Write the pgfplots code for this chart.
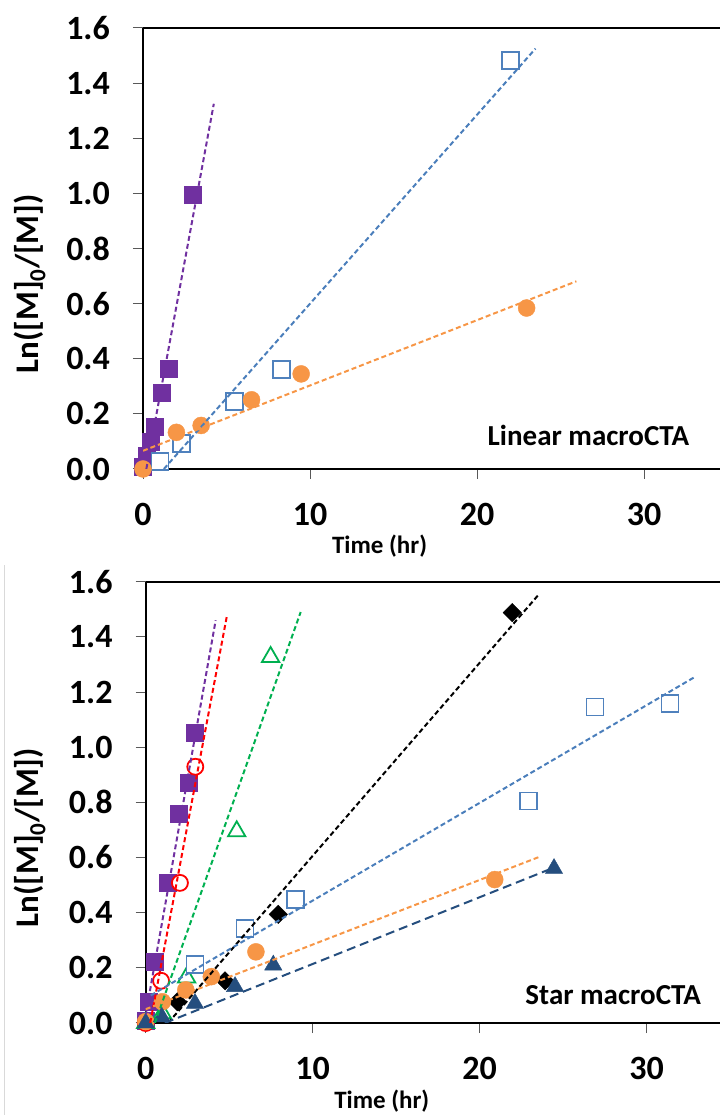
\documentclass[border=0pt]{standalone}
\usepackage{fontspec}
\setmainfont{Carlito}
\usepackage{pgfplots}
\pgfplotsset{compat=1.18}
\definecolor{cpurple}{HTML}{7030A0}
\definecolor{cblue}{HTML}{4F81BD}
\definecolor{cblueline}{HTML}{4A7EBB}
\definecolor{corange}{HTML}{F79646}
\definecolor{cred}{HTML}{FF0000}
\definecolor{cgreen}{HTML}{00B050}
\definecolor{cnavy}{HTML}{254E7E}
\definecolor{ctick}{HTML}{595959}
\pgfplotsset{
  kin/.style={
    scale only axis,
    xmin=0, ymin=0, ymax=1.6,
    axis y line*=left,
    xtick={0,10,20,30},
    ytick={0,0.2,0.4,0.6,0.8,1.0,1.2,1.4,1.6},
    xtick pos=bottom, ytick pos=left,
    tick align=outside,
    major tick length=10pt,
    major tick style={line width=1pt, ctick},
    axis line style={line width=2pt, black},
    clip mode=individual,
    /pgf/number format/assume math mode=true,
    tick label style={font=\fontsize{34}{38}\selectfont\bfseries},
    yticklabel style={/pgf/number format/fixed, /pgf/number format/fixed zerofill, /pgf/number format/precision=1},
    yticklabel style={anchor=east, inner sep=0pt, xshift=-23pt},
    xticklabel style={anchor=north, inner sep=0pt, yshift=-24pt},
    label style={font=\fontsize{33}{38}\selectfont\bfseries},
    xlabel style={font=\fontsize{25}{30}\selectfont\bfseries},
    ylabel={Ln([M]\textsubscript{0}/[M])},
    xlabel={Time (hr)},
  },
  fit/.style={line width=2pt, dash pattern=on 5pt off 3pt},
  om/.style={only marks, mark options={solid, fill=white, line width=1.8pt}},
  fm/.style={only marks, mark options={solid}},
}
\begin{document}
\begin{tikzpicture}
\useasboundingbox (0,0) rectangle (720pt,1115pt);
\draw[black!15, line width=1pt] (4pt,0) -- (4pt,550pt);
% ---------------- Top: Linear macroCTA
\begin{axis}[kin, at={(143pt,646pt)}, anchor=south west,
  width=577pt, height=441pt, xmax=34.55,
  ylabel style={at={(axis description cs:-0.196,0.42)}, anchor=center},
  xlabel style={at={(axis description cs:0.41,-0.176)}, anchor=center}]
\addplot[fm, mark=square*, mark size=8.5pt, color=cpurple] coordinates {
 (0,0.007) (0.22,0.048) (0.48,0.10) (0.68,0.155) (1.12,0.278) (1.55,0.363) (3.0,0.995)};
\addplot[om, mark=square*, mark size=8.5pt, color=cblue] coordinates {
 (1.02,0.028) (2.3,0.092) (5.5,0.246) (8.3,0.36) (22.0,1.483)};
\addplot[fm, mark=*, mark size=8.5pt, color=corange] coordinates {
 (0,0) (2.0,0.133) (3.48,0.158) (6.5,0.251) (9.47,0.345) (22.97,0.584)};
\addplot[fit, cpurple, no marks] coordinates {(0.2,0) (4.24,1.325)};
\addplot[fit, cblueline, no marks] coordinates {(1.25,0) (23.5,1.525)};
\addplot[fit, corange, no marks] coordinates {(0,0.066) (25.95,0.681)};
\node[anchor=base, font=\fontsize{29}{34}\selectfont\bfseries] at (axis description cs:0.772,0.053) {Linear macroCTA};
\end{axis}
% ---------------- Bottom: Star macroCTA
\begin{axis}[kin, at={(145.7pt,92pt)}, anchor=south west,
  width=574.3pt, height=441.3pt, xmax=34.39,
  ylabel style={at={(axis description cs:-0.2015,0.42)}, anchor=center},
  xlabel style={at={(axis description cs:0.411,-0.177)}, anchor=center}]
\addplot[fm, mark=square*, mark size=8.5pt, color=cpurple] coordinates {
 (0,0.01) (0.16,0.077) (0.52,0.222) (1.29,0.507) (1.97,0.76) (2.6,0.872) (2.95,1.052)};
\addplot[om, mark=*, mark size=8pt, color=cred] coordinates {
 (0,0) (0.92,0.153) (2.05,0.508) (2.97,0.929)};
\addplot[om, mark=triangle*, mark size=10pt, color=cgreen] coordinates {
 (0,0) (1.0,0.035) (2.45,0.165) (5.45,0.695) (7.48,1.327)};
\addplot[only marks, mark=square*, mark size=6.5pt, mark options={solid, rotate=45}, color=black] coordinates {
 (1.9,0.077) (4.75,0.153) (7.94,0.394) (21.95,1.488)};
\addplot[om, mark=square*, mark size=8.5pt, color=cblue] coordinates {
 (2.95,0.212) (5.95,0.344) (8.98,0.448) (22.9,0.805) (26.9,1.146) (31.4,1.158)};
\addplot[fm, mark=*, mark size=8.5pt, color=corange] coordinates {
 (0,0.005) (1.0,0.077) (2.4,0.12) (3.93,0.168) (6.6,0.258) (20.9,0.52)};
\addplot[fm, mark=triangle*, mark size=10pt, color=cnavy] coordinates {
 (0,0) (0.96,0.022) (2.95,0.071) (5.35,0.132) (7.64,0.21) (24.45,0.56)};
\addplot[fit, cpurple, no marks] coordinates {(0,0.03) (4.19,1.46)};
\addplot[fit, cred, no marks] coordinates {(0.27,0) (4.85,1.472)};
\addplot[fit, cgreen, no marks] coordinates {(0.55,0) (9.28,1.49)};
\addplot[fit, black, no marks] coordinates {(1.34,0) (23.5,1.551)};
\addplot[fit, cblueline, no marks] coordinates {(0.3,0.1) (32.95,1.257)};
\addplot[fit, corange, no marks] coordinates {(0,0.05) (23.6,0.603)};
\addplot[line width=2pt, dash pattern=on 9pt off 5pt, cnavy, no marks] coordinates {(1.15,0) (24.3,0.56)};
\node[anchor=base, font=\fontsize{29}{34}\selectfont\bfseries] at (axis description cs:0.814,0.041) {Star macroCTA};
\end{axis}
\end{tikzpicture}
\end{document}
